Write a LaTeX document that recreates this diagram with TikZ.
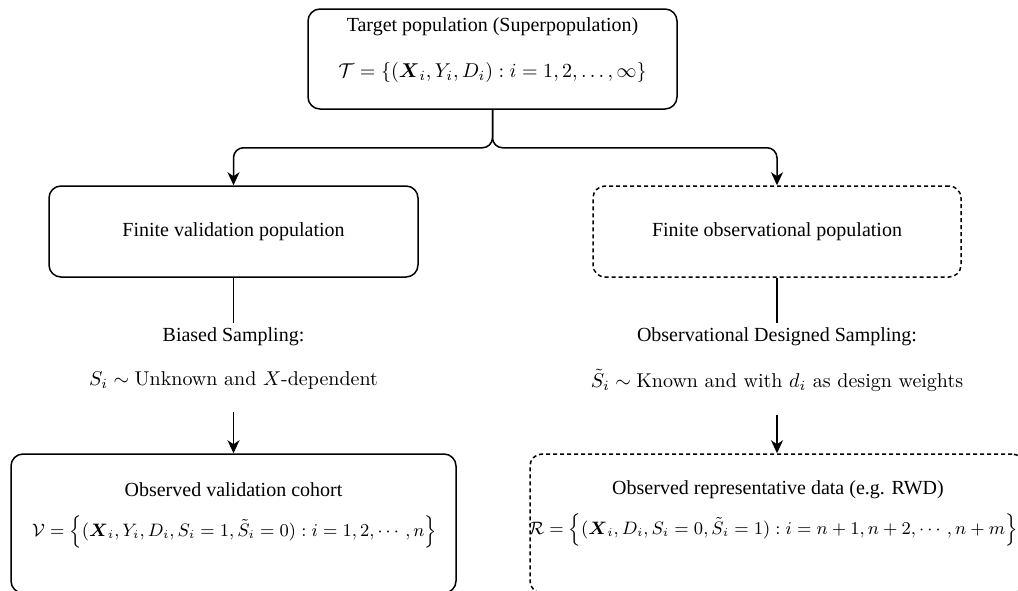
\documentclass[tikz,border=0pt]{standalone}
\usepackage{amsmath}
\usepackage[no-math]{fontspec}
\setmainfont{Liberation Serif}
\usetikzlibrary{arrows.meta}
\newcommand{\mjx}[1]{\text{\fontfamily{lmr}\selectfont #1}}
\begin{document}
\begin{tikzpicture}[x=0.5pt, y=-0.5pt,
  box/.style={draw, rounded corners=6pt, line width=0.75pt, inner sep=0pt},
  dbox/.style={box, dash pattern=on 2pt off 1.5pt},
  arr/.style={-{Stealth[length=6.5pt,width=6pt,inset=2pt]}, line width=0.75pt},
  txt/.style={inner sep=0pt},
  small/.style={inner sep=0pt, font=\fontsize{9}{11}\selectfont},
  samp/.style={inner ysep=2.5pt, inner xsep=0pt},
  sampf/.style={inner ysep=11.5pt, inner xsep=0pt}]
\useasboundingbox (0,0) rectangle (1018,590);
\clip (0,0) rectangle (1018,590);
\node[box, minimum width=184.5pt, minimum height=50pt] (target) at (492.5,59) {};
\node[txt] (targetA) at (492.5,27) {Target population (Superpopulation)};
\node[txt] (targetB) at (492.5,72) {$\mathcal{T}=\{(\boldsymbol{X}_i,Y_i,D_i):i=1,2,\dots,\infty\}$};
\node[box, minimum width=184.5pt, minimum height=45.5pt] (valpop) at (233.5,231.5) {Finite validation population};
\node[dbox, minimum width=184pt, minimum height=45.5pt] (obspop) at (777,231.5) {Finite observational population};
\draw[arr, rounded corners=5pt] (target.south) -- ++(0,38) -| (valpop.north);
\draw[arr, rounded corners=5pt] (target.south) -- ++(0,38) -| (obspop.north);
\node[samp] (biased) at (233.5,337) {Biased Sampling:};
\node[sampf] (biasedS) at (233.5,380) {$S_i\sim\mjx{Unknown and }X\mjx{-dependent}$};
\node[samp] (obsdes) at (777,337) {Observational Designed Sampling:};
\node[sampf] (obsdesS) at (777,380) {$\tilde{S}_i\sim\mjx{Known and with }d_i\mjx{ as design weights}$};
\node[box, minimum width=222.5pt, minimum height=69.5pt] (valcohort) at (233.5,523.5) {};
\node[txt] (valcohortA) at (233.5,490) {Observed validation cohort};
\node[small] (valcohortB) at (234.5,532) {$\mathcal{V}=\left\{(\boldsymbol{X}_i,Y_i,D_i,S_i=1,\tilde{S}_i=0):i=1,2,\cdots,n\right\}$};
\node[dbox, minimum width=247pt, minimum height=69.5pt] (obsdata) at (777,523.5) {};
\node[txt] (obsdataA) at (778,490) {Observed representative data (e.g. RWD)};
\node[small] (obsdataB) at (773,530) {$\mathcal{R}=\left\{(\boldsymbol{X}_i,D_i,S_i=0,\tilde{S}_i=1):i=n+1,n+2,\cdots,n+m\right\}$};
\draw[line width=0.75pt] (valpop) -- (biased);
\draw[arr] (biasedS) -- (valcohort);
\draw[line width=0.75pt] (obspop) -- (obsdes);
\draw[arr] (obsdesS) -- (obsdata);
\end{tikzpicture}
\end{document}
